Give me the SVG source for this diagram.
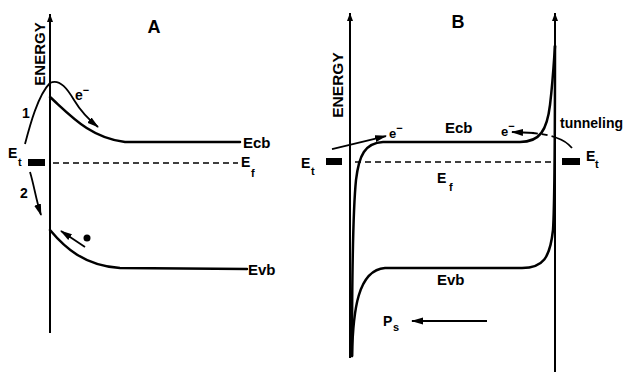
<svg xmlns="http://www.w3.org/2000/svg" width="626" height="374" viewBox="0 0 626 374">
<style>
text{font-family:"Liberation Sans",Arial,Helvetica,sans-serif;font-weight:bold;fill:#000}
.ax{stroke:#000;stroke-width:2;fill:none}
.band{stroke:#000;stroke-width:2.5;fill:none;stroke-linecap:round;stroke-linejoin:round}
.dash{stroke:#000;stroke-width:1.3;stroke-dasharray:6 4;fill:none}
.arr{stroke:#000;stroke-width:1.8;fill:none}
.lbl{font-size:15px}
.sm{font-size:14px}
.sub{font-size:11px}
.ttl{font-size:18px}
</style>
<defs>
<marker id="ah" markerUnits="userSpaceOnUse" markerWidth="12" markerHeight="8" refX="11" refY="4" orient="auto"><path d="M0,0.5 L12,4 L0,7.5 z" fill="#000"/></marker>
<marker id="axh" markerUnits="userSpaceOnUse" markerWidth="8" markerHeight="6" refX="8" refY="3" orient="auto"><path d="M0,0 L8,3 L0,6 z" fill="#000"/></marker>
</defs>

<g id="panel-a">
  <g id="axis-a">
    <line class="ax" x1="50" y1="333" x2="50" y2="14" marker-end="url(#axh)"/>
    <text class="lbl" transform="translate(45,54) rotate(-90)" text-anchor="middle">ENERGY</text>
  </g>
  <text id="title-a" class="ttl" x="154" y="33" text-anchor="middle">A</text>
  <g id="trap-a">
    <rect x="28" y="159" width="17" height="7" fill="#000"/>
    <text class="sm" x="8" y="158">E</text>
    <text class="sub" x="18" y="166">t</text>
  </g>
  <g id="ecb-a">
    <path class="band" d="M50,97 C70,115 90,138 125,142 L240,142"/>
    <text class="lbl" x="243" y="148">Ecb</text>
  </g>
  <g id="ef-a">
    <path class="dash" d="M53,163 L238,163"/>
    <text class="sm" x="241" y="167">E</text>
    <text class="sub" x="251" y="177">f</text>
  </g>
  <g id="evb-a">
    <path class="band" d="M50,230 C65,248 85,266 120,268 L247,269"/>
    <text class="lbl" x="248" y="275">Evb</text>
  </g>
  <g id="connectors-a">
    <path class="arr" d="M25,144 C30,125 38,95 50,83 C60,78 68,90 74,100 C80,110 88,119 98,127" marker-end="url(#ah)"/>
    <path class="arr" d="M30,172 C34,185 36,200 41,215" marker-end="url(#ah)"/>
    <path class="arr" d="M85,247 L61,231" marker-end="url(#ah)"/>
  </g>
  <circle id="hole-a" cx="87" cy="238" r="3.5" fill="#000"/>
  <text class="sm" x="22" y="118">1</text>
  <text class="sm" x="20" y="198">2</text>
  <text class="sm" x="75" y="100">e<tspan dy="-6" class="sub">−</tspan></text>
</g>

<g id="panel-b">
  <g id="axis-b-left">
    <line class="ax" x1="350" y1="358" x2="350" y2="13" marker-end="url(#axh)"/>
    <text class="lbl" transform="translate(343,85) rotate(-90)" text-anchor="middle" style="font-size:15.5px">ENERGY</text>
  </g>
  <g id="axis-b-right">
    <line class="ax" x1="555" y1="372" x2="555" y2="13" marker-end="url(#axh)"/>
  </g>
  <text id="title-b" class="ttl" x="458" y="28" text-anchor="middle">B</text>
  <g id="trap-b-left">
    <rect x="326" y="158" width="16" height="7" fill="#000"/>
    <text class="sm" x="301" y="168">E</text>
    <text class="sub" x="311" y="175">t</text>
  </g>
  <g id="trap-b-right">
    <rect x="562" y="158" width="18" height="7" fill="#000"/>
    <text class="sm" x="586" y="161">E</text>
    <text class="sub" x="595" y="168">t</text>
  </g>
  <g id="ecb-b">
    <path class="band" d="M352,356 C352,300 353,210 356,180 C359,155 365,143 383,142 L520,142 C540,142 547,130 550,105 C553,80 554,60 555,46"/>
    <text class="lbl" x="445" y="133">Ecb</text>
  </g>
  <g id="ef-b">
    <path class="dash" d="M355,162 L552,162"/>
    <text class="sm" x="437" y="183">E</text>
    <text class="sub" x="449" y="191">f</text>
  </g>
  <g id="evb-b">
    <path class="band" d="M352,356 C353,310 358,270 385,268 L522,268 C543,268 550,258 553,230 C555,200 555,120 555,46"/>
    <text class="lbl" x="437" y="285">Evb</text>
  </g>
  <g id="connectors-b">
    <path class="arr" d="M332,149 L386,136" marker-end="url(#ah)"/>
    <path class="arr" d="M572,148 Q566,141 557,138"/>
    <path class="dash" d="M557,138 Q547,134 532,133" style="stroke-width:1.8"/>
    <path class="arr" d="M534,133 L512,132" marker-end="url(#ah)"/>
    <path class="arr" d="M487,321 L412,321" marker-end="url(#ah)"/>
  </g>
  <text class="sm" x="389" y="138" style="font-size:13px">e<tspan dy="-6" class="sub">−</tspan></text>
  <text class="sm" x="501" y="136" style="font-size:13px">e<tspan dy="-6" class="sub">−</tspan></text>
  <text class="sm" x="560" y="128">tunneling</text>
  <text class="sm" x="383" y="326">P</text>
  <text class="sub" x="393" y="331">s</text>
</g>
</svg>
